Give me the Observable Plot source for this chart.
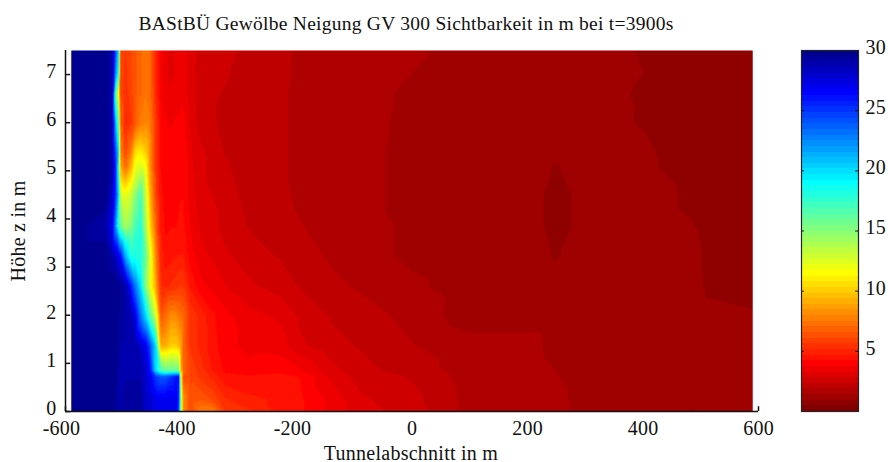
<!DOCTYPE html>
<html><head><meta charset="utf-8">
<script src="https://cdn.jsdelivr.net/npm/d3@7"></script>
<script src="https://cdn.jsdelivr.net/npm/@observablehq/plot@0.6"></script>
<style>
html,body{margin:0;padding:0;background:#fff;}
#wrap{position:relative;width:888px;height:462px;overflow:hidden;}
#main,#bar{position:absolute;top:0;}
#main{left:0;}#bar{left:795px;}
svg{display:block;}
</style></head><body>
<div id="wrap"><div id="main"></div><div id="bar"></div></div>
<script>
const titleText = "BAStBÜ Gewölbe Neigung GV 300 Sichtbarkeit in m bei t=3900s";
const xLabel = "Tunnelabschnitt in m";
const yLabel = "Höhe z in m";
const xTicks = [-600,-400,-200,0,200,400,600];
const yTicks = [0,1,2,3,4,5,6,7];
const barTicks = [5,10,15,20,25,30];

const stations = [-590,-531,-519,-513,-508,-505,-496,-487,-479,-470,-461,-453,-444,-435,-427,-418,-409,-404,-401,-396,
  -384,-366,-344,-323,-280,-228,-193,-141,-89,0,100,205,248,309,370,405,440,482,525,590];
const heights = [7.5,7,6.6,6,5.4,5.1,4.5,3.85,3.25,2.6,2,1.37,0.85,0.72,0.25,0];

const z750 = [30,30,29,24,20,6,5.6,6,6.5,7,7.2,7,5,3.9,3.4,3.2,3.3,3.4,3.4,3.4, 3.1,2.6,2.6,2.6,2.1,2.1,1.7,1.6,1.6,1.5,1.15,1.15,1.15,1.15,1.15,.7,.7,.7,.7,.7];
const z700 = [30,30,29,22,18,6,5.5,6,6.5,7,7.4,7,5,3.8,3.4,3.2,3.3,3.4,3.5,3.5, 3.1,2.5,2.5,2.4,2.1,2.1,1.7,1.6,1.6,1.4,1.15,1.15,1.15,1.15,1.15,.9,.7,.7,.7,.7];
const z660 = [30,30,29,16,12,6,5.4,5.8,6.5,7,7.5,7,5.2,3.9,3.4,3.4,3.5,3.6,3.6,3.6, 3.1,2.5,2.4,2.3,2,2,1.7,1.6,1.6,1.3,1.15,1.15,1.15,1.15,1,.7,.7,.7,.7,.7];
const z600 = [30,30,29,21,16,7,5,5.5,6.5,7.6,8,7.5,5.6,4.2,3.8,3.7,3.8,3.8,3.9,3.9, 3.2,2.6,2.4,2.2,2,2,1.7,1.6,1.6,1.25,1.15,1.15,1.15,1.15,1,.85,.7,.7,.7,.7];
const z540 = [30,30,29,24,20,8,6,7.5,10.5,11,10,8,5.6,4.2,3.9,4,4,4,4.1,4.1, 3.4,2.9,2.6,2.3,2.1,2,1.7,1.6,1.6,1.2,1.1,1.15,1.15,1.15,1.15,1.1,.75,.7,.7,.7];
const z510 = [30,30,29,25,18,9,7,9,12,12.5,11.5,8,5.5,4.2,3.9,4,4.1,4.1,4.2,4.2, 3.4,3,2.6,2.4,2.1,2,1.7,1.6,1.6,1.2,1.1,1.15,.9,1.15,1.15,1.1,.85,.7,.7,.7];
const z450 = [30,30,28,25,20,13,12,13,15,17,13,9,6,4.4,4,4.1,4.1,4.1,4.2,4.2, 3.5,3,2.8,2.5,2.2,2,1.75,1.6,1.6,1.2,1.1,1.15,.75,1.15,1.15,1.15,1.1,.75,.7,.7];
const z385 = [30,29,27,22,18,16,14,15,17,18,14,10,7,4.6,4.1,4.2,4.2,4.3,4.3,4.3, 3.7,3.2,3,2.6,2.3,2.1,1.9,1.7,1.6,1.3,1.15,1.15,.75,1.15,1.15,1.15,1.15,1,.7,.7];
const z325 = [30,30,29,28,27,26,21,18,18,18,16,12,8,5,4.4,4.5,4.6,4.7,4.7,4.7, 4,3.4,3.2,2.9,2.5,2.3,2.1,1.8,1.6,1.3,1.15,1.15,.9,1.15,1.15,1.15,1.15,1.1,.75,.7];
const z260 = [30,30,30,30,30,29.5,29,26,23,20,15,12,9,5.3,5,5.2,5.4,5.6,5.6,5.6, 4.6,3.9,3.6,3.3,2.9,2.6,2.3,2,1.8,1.5,1.2,1.15,1.15,1.15,1.15,1.15,1.15,1.1,.8,.7];
const z200 = [30,30,30,30,29.5,29.5,29,29,27,23,20,16,13,6.5,7,8,8,7.5,7.2,7, 5.5,5,4.3,3.9,3.4,3.2,2.7,2.3,2.1,1.7,1.15,1.15,1.15,1.15,1.15,1.15,1.15,1.15,1.1,1];
const z137 = [30,30,30,30,29.5,29,29,29,29,28,27,24,20,9,9,10,10,9.5,9,7, 5.5,5,4.4,3.9,3.6,3.5,2.9,2.5,2.3,1.9,1.6,1.6,1.2,1.15,1.15,1.15,1.15,1.15,1.15,1.15];
const z085 = [30,30,30,30,29,29,29,29,29,29,28,26,20,17,16,16,16,16,10,7, 6,5.4,4.6,4.1,3.9,4.1,3.8,3,2.5,2.1,1.65,1.65,1.41,1.15,1.15,1.15,1.15,1.15,1.15,1.15];
const z072 = [30,30,30,30,29,29,29,29,29,29,28,27,25,24,24,25,26,27,14,6, 6,5.5,5,4.4,4.3,4.4,4.2,3.2,2.6,2.3,1.65,1.65,1.45,1.15,1.15,1.15,1.15,1.15,1.15,1.15];
const z025 = [30,30,30,29.5,29,29,29.5,29.5,29.5,29.5,28,28,27,27,27,27,27,26,16,8, 6.2,6.5,6,5.2,4.8,4.6,4.3,3.6,2.9,2.5,1.7,1.65,1.55,1.15,1.15,1.15,1.15,1.15,1.15,1.15];
const z000 = [30,30,30,29.5,29,29,29.5,29.5,29.5,29.5,28,28,27,27,27,27,27,25,16,8, 6,7.5,7.6,5.6,5.2,4.6,4.3,3.6,3,2.6,1.7,1.65,1.6,1.15,1.15,1.15,1.15,.9,1.15,1.15];
const rows = [z750,z700,z660,z600,z540,z510,z450,z385,z325,z260,z200,z137,z085,z072,z025,z000];

const grid = rows.flatMap((r,i) => r.map((v,j) => ({x:stations[j], z:heights[i], v})));

// MATLAB jet(64), reversed: lowest value dark red, highest dark blue
function jet64(i){
  const u = k => k<1||k>47 ? 0 : k<=16 ? k/16 : k<=31 ? 1 : (48-k)/16;
  const c = x => Math.round(255*x);
  const k = i+1;
  return `rgb(${c(u(k-24))},${c(u(k-8))},${c(u(k+8))})`;
}
const maxV = 30;
const levels = d3.range(64);
const colors = levels.map(i => jet64(63-i));
const thresholds = levels.slice(1).map(i => i*maxV/64);
const colorScale = {type:"threshold", domain:thresholds, range:colors};
const fontStyle = {fontFamily:"'Liberation Serif',serif", fontSize:"20px", letterSpacing:"0.25px", color:"#111", background:"transparent", overflow:"visible"};

const main = Plot.plot({
  width:888, height:462,
  marginLeft:65, marginRight:130, marginTop:50, marginBottom:51,
  style:fontStyle,
  x:{domain:[-600,600]},
  y:{domain:[0,7.5]},
  color:colorScale,
  marks:[
    Plot.ruleX(xTicks,{y1:0,y2:0.1,stroke:"#111",strokeWidth:1.5}),
    Plot.ruleY(yTicks,{x1:-600,x2:-591,stroke:"#111",strokeWidth:1.5}),
    Plot.raster(grid,{x:"x",y:"z",fill:"v",x1:-590,x2:590,y1:0,y2:7.5,interpolate:"barycentric"}),
    Plot.ruleX([-600],{stroke:"#111",strokeWidth:1.5}),
    Plot.ruleY([0],{stroke:"#111",strokeWidth:1.5}),
    Plot.axisX(xTicks.filter(d=>d<0),{tickSize:0,tickPadding:9,label:null,tickFormat:d=>String(d),dx:-4}),
    Plot.axisX(xTicks.filter(d=>d>=0),{tickSize:0,tickPadding:9,label:null,tickFormat:d=>String(d)}),
    Plot.axisY(yTicks,{tickSize:0,tickPadding:9,label:null,dy:-3}),
    Plot.text([titleText],{frameAnchor:"top",dy:-34,dx:-6,fontSize:19.5}),
    Plot.text([xLabel],{frameAnchor:"bottom",dy:48,dx:-1,fontSize:20}),
    Plot.text([yLabel],{frameAnchor:"left",textAnchor:"middle",dx:-47,rotate:-90,fontSize:20})
  ]
});
const img = main.querySelector("image");
if (img) img.style.filter = "blur(0.6px)";
document.getElementById("main").append(main);

const bar = Plot.plot({
  width:93, height:462,
  marginLeft:6, marginRight:30, marginTop:50, marginBottom:51,
  style:fontStyle,
  x:{domain:[0,1],axis:null},
  y:{domain:[0,maxV]},
  color:colorScale,
  marks:[
    Plot.rectY(levels,{x1:0,x2:1,y1:i=>i*maxV/64,y2:i=>(i+1)*maxV/64,fill:i=>(i+.5)*maxV/64,shapeRendering:"crispEdges"}),
    Plot.ruleY(barTicks,{x1:0,x2:0.05,stroke:"#111"}),
    Plot.ruleY(barTicks,{x1:0.95,x2:1,stroke:"#111"}),
    Plot.frame({stroke:"#222",strokeWidth:1.2}),
    Plot.axisY(barTicks,{anchor:"right",tickSize:0,tickPadding:7,label:null,dy:-3})
  ]
});
document.getElementById("bar").append(bar);
</script>
</body></html>
